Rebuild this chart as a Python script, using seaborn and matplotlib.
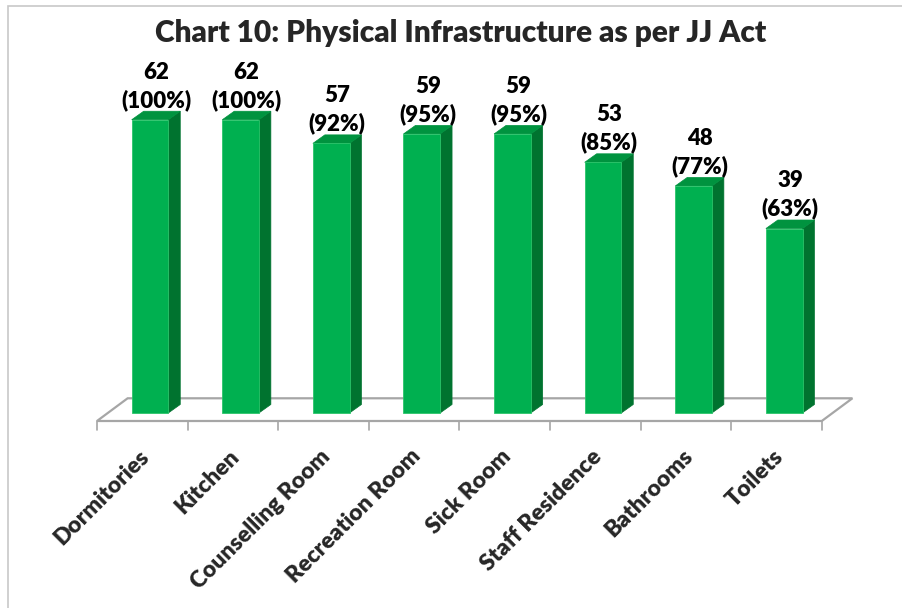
import matplotlib
matplotlib.use("Agg")
import matplotlib.pyplot as plt
from matplotlib.patches import Polygon, Rectangle
import seaborn as sns
import pandas as pd


CATEGORIES = ["Dormitories", "Kitchen", "Counselling Room", "Recreation Room",
              "Sick Room", "Staff Residence", "Bathrooms", "Toilets"]
COUNTS = [62, 62, 57, 59, 59, 53, 48, 39]
PERCENTS = [100, 100, 92, 95, 95, 85, 77, 63]

FRONT = "#00B050"
SIDE = "#00732F"
TOP = "#00933F"
FLOOR_EDGE = "#A6A6A6"

# 3D look: offsets in data units
BAR_DX, BAR_DY = 0.132, 1.8
FLOOR_DX, FLOOR_DY = 0.338, 4.8
FLOOR_Y = -1.69
FLOOR_X0 = -0.585


sns.set_style("white")
plt.rcParams["font.family"] = ["Lato", "DejaVu Sans"]

fig = plt.figure(figsize=(9.02, 6.08), dpi=100)
ax = fig.add_axes([90 / 902, (608 - 440) / 608, 780 / 902, 380 / 608])

df = pd.DataFrame({"category": CATEGORIES, "count": COUNTS})
sns.barplot(data=df, x="category", y="count", color=FRONT, saturation=1,
            width=0.404, ax=ax, zorder=2, edgecolor="#2BC46A", linewidth=0.6)

n = len(CATEGORIES)

# floor plane
floor = Polygon([(FLOOR_X0, FLOOR_Y), (FLOOR_X0 + n, FLOOR_Y),
                 (FLOOR_X0 + n + FLOOR_DX, FLOOR_Y + FLOOR_DY),
                 (FLOOR_X0 + FLOOR_DX, FLOOR_Y + FLOOR_DY)],
                closed=True, facecolor="white", edgecolor=FLOOR_EDGE,
                linewidth=1.6, zorder=0.5)
ax.add_patch(floor)
for i in range(n + 1):
    ax.plot([FLOOR_X0 + i, FLOOR_X0 + i], [FLOOR_Y, FLOOR_Y - 1.8],
            color=FLOOR_EDGE, linewidth=1.2, zorder=0.5)

# side and top faces of each bar, plus labels
for patch, c, p in zip(ax.patches, COUNTS, PERCENTS):
    x, w, h = patch.get_x(), patch.get_width(), patch.get_height()
    side = Polygon([(x + w, 0), (x + w + BAR_DX, BAR_DY),
                    (x + w + BAR_DX, h + BAR_DY), (x + w, h)],
                   closed=True, facecolor=SIDE, edgecolor=SIDE, linewidth=0.5, zorder=1.8)
    top = Polygon([(x, h), (x + BAR_DX, h + BAR_DY),
                   (x + w + BAR_DX, h + BAR_DY), (x + w, h)],
                  closed=True, facecolor=TOP, edgecolor=TOP, linewidth=0.5, zorder=1.8)
    ax.add_patch(side)
    ax.add_patch(top)
    ax.text(x + w / 2 + BAR_DX / 2, h + BAR_DY + 0.1, f"{c}\n({p}%)",
            ha="center", va="bottom", fontsize=16, fontweight="heavy",
            linespacing=1.35, color="black")

ax.set_xlim((90 - 150) / 90.6, (870 - 150) / 90.6)
ax.set_ylim((413 - 440) / 4.73, (413 - 60) / 4.73)
ax.set_yticks([])
ax.set_xticks([i - 0.13 for i in range(n)], labels=CATEGORIES)
ax.tick_params(axis="x", length=0, pad=4)
for lbl in ax.get_xticklabels():
    lbl.set_rotation(45)
    lbl.set_ha("right")
    lbl.set_va("top")
    lbl.set_rotation_mode("anchor")
    lbl.set_fontsize(16.5)
    lbl.set_fontweight("heavy")
ax.set_xlabel("")
ax.set_ylabel("")
sns.despine(ax=ax, left=True, bottom=True)

fig.text(0.511, 1 - 33 / 608, "Chart 10: Physical Infrastructure as per JJ Act",
         ha="center", va="center", fontsize=21.5, fontweight="heavy")

border = Rectangle((8 / 902, -0.1), 1.2, 1.1 - 6 / 608, transform=fig.transFigure,
                   fill=False, edgecolor="#C8C8C8", linewidth=1.2)
fig.patches.append(border)

fig.savefig("out.png", dpi=100)
